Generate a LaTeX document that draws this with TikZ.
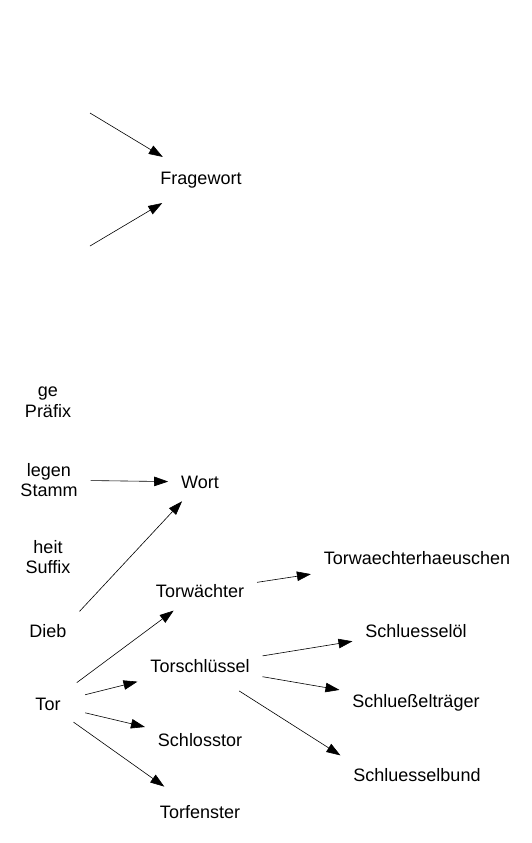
\documentclass[tikz,border=0pt]{standalone}
\usepackage{fontspec}
\setmainfont{Liberation Sans}
\usetikzlibrary{arrows.meta}

\begin{document}
\begin{tikzpicture}[x=1pt,y=-1pt,
  word/.style={font=\fontsize{18}{20.5}\selectfont,align=center,inner sep=3pt,outer sep=10pt},
  link/.style={-{Triangle[length=14pt,width=9.5pt]},draw=black,line width=0.6pt},
]
\useasboundingbox (0,0) rectangle (532,843);
% question word
\node[word,outer sep=12pt] (frage) at (201,180) {Fragewort};
\coordinate (fromtop) at (90,113);
\coordinate (frombot) at (90,246);
\draw[link] (fromtop) -- (frage);
\draw[link] (frombot) -- (frage);
% word parts
\node[word] (praefix) at (48,402) {ge\\Präfix};
\node[word] (stamm) at (49,480) {legen\\Stamm};
\node[word] (suffix) at (48,557) {heit\\Suffix};
\node[word] (dieb) at (48,631) {Dieb};
\node[word] (tor) at (48,704) {Tor};
\node[word] (wort) at (200,482) {Wort};
\draw[link] (stamm) -- (wort);
\draw[link] (dieb.north east) -- (wort);
% compounds of Tor
\node[word] (waechter) at (200,591) {Torwächter};
\node[word] (schluessel) at (200,666) {Torschlüssel};
\node[word] (schlosstor) at (200,740) {Schlosstor};
\node[word] (fenster) at (200,812) {Torfenster};
\draw[link,shorten <=4pt] (tor) -- (waechter);
\draw[link,shorten <=12pt] (tor) -- (schluessel);
\draw[link,shorten <=12pt] (tor) -- (schlosstor);
\draw[link,shorten >=10pt] (tor) -- (fenster);
% second level
\node[word] (haeuschen) at (417,558) {Torwaechterhaeuschen};
\node[word] (oel) at (416,631) {Schluesselöl};
\node[word] (traeger) at (416,703) {Schlueßelträger};
\node[word] (bund) at (417,775) {Schluesselbund};
\draw[link] (waechter) -- (haeuschen);
\draw[link] (schluessel) -- (oel);
\draw[link] (schluessel) -- (traeger);
\draw[link,shorten <=10pt] (schluessel) -- (bund.north west);
\end{tikzpicture}
\end{document}
